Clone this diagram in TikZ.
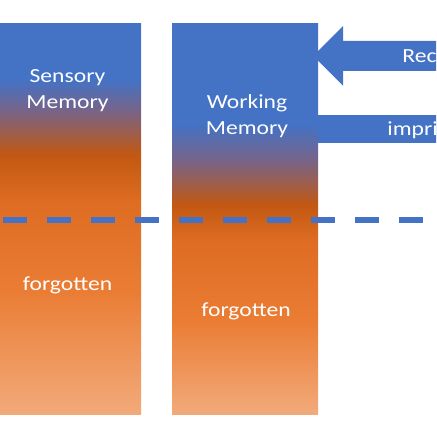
\documentclass[tikz,border=0pt]{standalone}
\usepackage{fontspec}
\usetikzlibrary{calc}
\newfontfamily\memfont[FakeStretch=1.18]{Carlito}

\definecolor{memblue}{RGB}{68,114,196}
\definecolor{memgray}{RGB}{118,100,138}
\definecolor{memdark}{RGB}{194,88,18}
\definecolor{memmid}{RGB}{222,108,34}
\definecolor{memorange}{RGB}{234,124,52}
\definecolor{memlight}{RGB}{242,170,122}

\pgfdeclareverticalshading{sensoryshade}{100bp}{
  color(0bp)=(memlight); color(25bp)=(memlight);
  color(41bp)=(memorange); color(52.4bp)=(memmid);
  color(58.2bp)=(memdark); color(64bp)=(memgray);
  color(67.8bp)=(memblue); color(100bp)=(memblue)}
\pgfdeclareverticalshading{workingshade}{100bp}{
  color(0bp)=(memlight); color(25bp)=(memlight);
  color(37bp)=(memorange); color(47.3bp)=(memmid);
  color(51.8bp)=(memdark); color(57.6bp)=(memgray);
  color(62.1bp)=(memblue); color(100bp)=(memblue)}

\begin{document}
\begin{tikzpicture}[
  x=1pt, y=-1pt,
  membox/.style={
      draw=none,
      inner sep=0pt,
      minimum height=390pt
    },
  label/.style={
      text=white,
      align=center,
      inner sep=0pt,
      font=\memfont\fontsize{20}{26}\selectfont
    },
  block/.style={
      fill=memblue,
      draw=none
    },
  divider/.style={
      draw=memblue,
      line width=5.5pt,
      dash pattern=on 24pt off 20pt
    }]
  \useasboundingbox (0,0) rectangle (436,436);
  \clip (0,0) rectangle (436,436);

  \node [membox, shading=sensoryshade, minimum width=141pt] (sensory) at (70.5,219) {};
  \node [membox, shading=workingshade, minimum width=146pt] (working) at (245,219) {};

  \node [label] (sensory_t) at ($(sensory.north) + (-3, 66.5)$) {Sensory\\Memory};
  \node [label] (working_t) at ($(working.north) + (2, 92)$) {Working\\Memory};
  \node [label, anchor=base] (sensory_f) at ($(sensory.south) + (-3, -124)$) {forgotten};
  \node [label, anchor=base] (working_f) at ($(working.south) + (1, -98)$) {forgotten};

  % arrows on the right
  \coordinate (rec_tip) at ($(working.north east) + (-5, 32)$);
  \fill [block] (rec_tip) -- ++(30, -30) -- ++(0, 15) -- ++(140, 0) -- ++(0, 30)
    -- ++(-140, 0) -- ++(0, 15) -- cycle;
  \node [label, anchor=base west] (rec_t) at ($(rec_tip) + (89, 7)$) {Rec};

  \coordinate (imp_a) at ($(working.north east) + (0, 91)$);
  \fill [block] (imp_a) rectangle ++(140, 28);
  \node [label, anchor=base west] (imp_t) at ($(imp_a) + (69, 21)$) {impri};

  \coordinate (div_l) at (3, 220);
  \coordinate (div_r) at (460, 220);
  \draw [divider] (div_l) -- (div_r);
\end{tikzpicture}
\end{document}
